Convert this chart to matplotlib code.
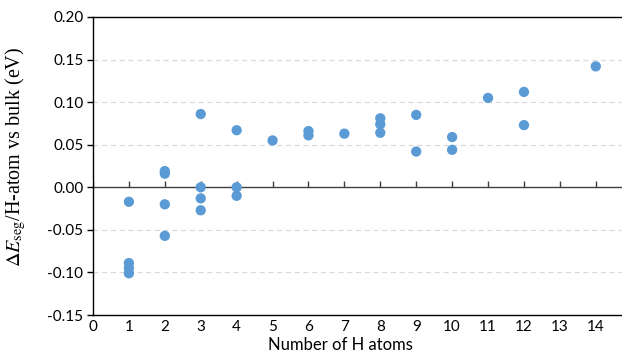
"""Scatter: segregation energy per H atom vs number of H atoms"""
import matplotlib
matplotlib.use('Agg')
import matplotlib.pyplot as plt

# Data
n_h_atoms = [1, 1, 1, 1,
             2, 2, 2, 2,
             3, 3, 3, 3,
             4, 4, 4,
             5,
             6, 6,
             7,
             8, 8, 8,
             9, 9,
             10, 10,
             11,
             12, 12,
             14]
e_seg = [-0.017, -0.089, -0.095, -0.101,
         0.019, 0.016, -0.020, -0.057,
         0.086, 0.000, -0.013, -0.027,
         0.067, 0.000, -0.010,
         0.055,
         0.066, 0.061,
         0.063,
         0.081, 0.074, 0.064,
         0.085, 0.042,
         0.059, 0.044,
         0.105,
         0.112, 0.073,
         0.142]

x_ticks = list(range(0, 15))
y_ticks = [-0.15, -0.10, -0.05, 0.00, 0.05, 0.10, 0.15, 0.20]
grid_levels = [-0.10, -0.05, 0.05, 0.10, 0.15]

plt.rcParams['font.family'] = ['Lato', 'DejaVu Sans']
plt.rcParams['mathtext.fontset'] = 'stix'

fig = plt.figure(figsize=(6.22, 3.63), dpi=100)
ax = fig.add_axes([0.1495, 0.1322, 0.8505, 0.821])

ax.set_xlim(0, 14.73)
ax.set_ylim(-0.15, 0.20)

# dashed grid lines (none at zero, that one is the axis line)
for g in grid_levels:
    ax.axhline(g, color='#d9d9d9', linewidth=0.9, linestyle=(0, (4, 3)), zorder=1)

# horizontal axis line at zero with tick marks pointing up
ax.axhline(0, color='#404040', linewidth=1.0, zorder=2)
ax.plot(x_ticks, [0] * len(x_ticks), linestyle='none', marker=2,
        markersize=4, markeredgewidth=1.0, color='#404040', zorder=2)

ax.scatter(n_h_atoms, e_seg, s=55, color='#5b9bd5', edgecolors='none', zorder=3)

ax.set_xticks(x_ticks)
ax.set_xticklabels([str(t) for t in x_ticks])
ax.set_yticks(y_ticks)
ax.set_yticklabels([f'{t:.2f}' for t in y_ticks])
ax.tick_params(axis='x', length=0, pad=3.5, labelsize=11, colors='#000000')
ax.tick_params(axis='y', length=4, width=1.0, direction='out', pad=3, labelsize=11)

for side in ['left', 'top', 'bottom']:
    ax.spines[side].set_color('black')
    ax.spines[side].set_linewidth(1.0)
ax.spines['right'].set_visible(False)

ax.set_xlabel('Number of H atoms', fontsize=12)
ax.xaxis.set_label_coords(0.467, -0.074)
ax.set_ylabel(r'$\Delta \mathit{E}_{\mathrm{seg}}$/H-atom vs bulk (eV)',
              family=['Liberation Serif', 'DejaVu Serif'], fontsize=14.5)
ax.yaxis.set_label_coords(-0.122, 0.53)

plt.savefig('out.png', dpi=100)
plt.close()
